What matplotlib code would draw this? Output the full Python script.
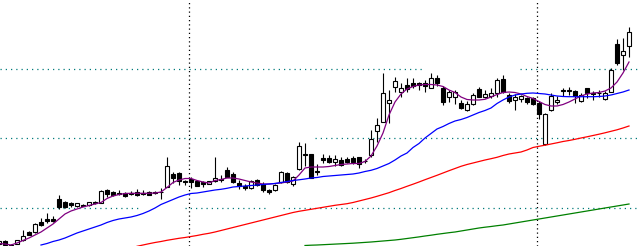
import matplotlib
matplotlib.use("Agg")
import matplotlib.pyplot as plt
import numpy as np

# ---- data (price-like units) ----
idx_start = -1
opens = [2, 5, 0.5, 2.5, 6, 14, 14.5, 24.5, 27, 27, 47, 44, 43, 40.5, 41.5, 41, 44.5, 43.5, 56.5, 54.5,
         53.5, 53.5, 53.5, 54, 53.5, 54.5, 54.5, 54.5, 59.5, 72.5, 73.5, 65, 67.5, 65.5, 64.5, 62.5, 65, 67, 76, 72,
         63.5, 60.5, 58.5, 66.5, 62.5, 56.5, 56, 64, 73.5, 62, 77, 92, 92, 75.5, 88.5, 88.5, 84.5, 86.3, 87.3, 88,
         89, 85.5, 91, 115, 124.5, 142.7, 158.7, 154.3, 161, 162.7, 162.7, 162.7, 158.3, 167.7, 157.7, 149.3, 149.5, 143.3, 135.7, 141.7,
         157, 149.5, 150, 152.7, 167, 151, 146, 146.7, 147.7, 148, 142.7, 101.7, 136, 143.7, 156, 156, 155, 145.3, 157.7, 152.7,
         153.3, 146.7, 154.3, 202, 190.7, 200]
closes = [5, 1, 1.5, 6, 10, 11.5, 22, 21, 25, 25, 39.5, 39.5, 41.5, 43, 40.5, 44, 43, 55, 52.5, 51,
          52, 50, 52, 51, 52, 51.5, 53, 54, 80, 68.5, 65, 64.5, 64, 60.5, 62.3, 65, 68.5, 66.5, 69.5, 64,
          60, 58.5, 65.5, 61.5, 56, 54.5, 61.5, 74.5, 63.7, 69, 100, 90.7, 68.3, 74, 86.5, 84, 87, 81, 84.3, 84,
          81.7, 85, 107, 121, 152.7, 146, 165, 157.7, 157, 160.3, 161, 160.3, 168.3, 162.7, 144.3, 153.7, 154, 138.3, 142, 151,
          149.3, 152, 153.3, 166, 153.7, 145, 149.3, 150, 143.7, 142, 132, 131.7, 150, 146, 155.5, 155.5, 150, 151.3, 153.3, 152.5,
          153, 153.3, 176, 183.3, 195, 213.7]
highs = [6, 6, 2, 6.5, 16, 15, 23.5, 28, 33, 30.5, 51.5, 45, 44, 43.5, 42, 44.5, 45.5, 56.5, 57.5, 55.5,
         56.5, 54.5, 55, 57, 56, 55, 55.5, 58, 89.5, 74, 74.5, 66.5, 69, 66.5, 65.5, 65.5, 89, 71, 79.5, 74.5,
         66, 62, 66, 67.5, 64, 57.5, 62, 75, 74, 70, 104, 103, 92.5, 82, 92.5, 91, 91, 89.5, 89.3, 90,
         89.5, 87, 116, 128, 172.7, 156, 169.3, 162.7, 167.7, 168, 164.3, 166, 172.7, 171, 160, 156, 156, 146, 145, 153,
         159.3, 156, 157.7, 167.7, 171, 153, 152, 151, 149.3, 149.5, 145, 133, 153.3, 150, 158.5, 159.3, 156, 153, 158, 155.3,
         156, 155, 177.7, 206.7, 207.7, 218.7]
lows = [1, 0, 0, 2, 5, 11, 13.5, 20, 23.5, 24, 37, 38.5, 39, 39.5, 40, 40.5, 42.5, 43, 49, 50,
        51, 49, 51, 50, 51, 51, 52, 47, 59, 63, 61, 61, 58, 60, 59.5, 62, 64.5, 64, 69, 63,
        57, 56.5, 57, 60.5, 54.5, 52, 55.5, 63.5, 63, 60, 76, 80.5, 68, 71, 83.5, 83, 80, 80, 83, 82.5,
        78, 83.5, 89, 104.5, 124, 123, 154.5, 149.5, 154.5, 158, 156, 154.5, 158, 160, 141, 144.3, 142, 137, 135, 141,
        149, 148, 148, 149.3, 153, 143.5, 136, 144.3, 142, 141, 127, 101, 135, 142, 150, 151, 143, 144.3, 147.7, 146,
        148.7, 146, 154, 181, 176, 189.3]

ma5 = [2.5, 2, 1, 3, 5.5, 8, 11, 14, 18, 22, 27, 32, 35, 37, 39, 40.5, 42, 43.5, 47.5, 50,
       51.5, 52.5, 52.7, 52.7, 52.7, 52.7, 53, 54, 58.5, 63.5, 66, 67.5, 67.5, 65.5, 64, 63, 65.5, 66.5, 68, 68,
       67, 65.5, 64, 63, 62, 62, 62.5, 63, 64, 65, 71, 78, 79, 79, 79, 79.5, 80.5, 81.5, 82, 82.5,
       82.5, 84.5, 90, 100, 113, 131, 144, 152, 157, 159.5, 161, 161.5, 161.5, 161, 159.5, 156, 153.5, 149, 146.5, 146,
       146, 146.7, 149, 151.5, 153.5, 154, 153.5, 152, 149.5, 147.5, 144.5, 141.5, 140, 140, 141.5, 144, 147, 150, 152, 153,
       153.5, 155, 158, 164, 173, 184]
ma_blue = [None] * 7 + [
    1, 2.5, 4.5, 6, 8, 10.5, 13, 15, 17, 19, 21, 23.5, 25.5, 27,
    28, 29, 30.5, 32.5, 35, 38, 41.5, 44, 46.5, 49, 51, 52.5, 53, 54, 55, 56, 56.7, 57.7, 59, 59.5,
    60, 60.5, 61, 61.5, 62, 62.5, 63.5, 64.5, 65.5, 66.2, 67, 68, 68.5, 69.5, 70, 70.5, 71, 71.5, 72, 73,
    74.5, 75.7, 77.5, 80, 82.5, 86, 90, 93, 98.5, 102.5, 108, 112.5, 117, 119.5, 122.5, 125, 126.5, 128.5, 131, 133.5,
    135.5, 138, 142.5, 146, 149, 151, 152, 152.7, 153, 152.5, 152, 151, 150, 149.5, 149.3, 149.3, 149.3, 149.3, 149.3, 149.5,
    150, 151, 152.5, 154, 156]
ma_red = [None] * 23 + [
    -0.3, 1, 2.3, 3.5, 4.5, 5.7, 6.7, 7.7, 8.5, 9.5, 10.5, 11.7, 12.7, 14, 15.5, 17, 18.5,
    20, 21.5, 23, 24.5, 26, 27.5, 29, 30.5, 32, 33.5, 34.7, 35.7, 36.7, 37.7, 38.7, 39.7, 40.7, 41.5, 42.3, 43.5,
    45, 46.5, 48, 49.7, 51.5, 53.3, 55.5, 57.5, 59.7, 61.8, 64, 66.3, 68.5, 70.7, 73, 75.3, 77.5, 79.7, 81.5, 83,
    84.5, 86, 87.3, 88.7, 90.5, 92, 93, 94, 96, 98.5, 99.7, 100.8, 102, 103.2, 104.5, 105.5, 106.7, 108, 109.2, 110.5,
    111.8, 113.2, 114.7, 116.2, 118, 120]
ma_green = [None] * 51 + [
    0.5, 0.8, 1, 1.3, 1.6, 1.9, 2.2, 2.5, 2.8, 3.2,
    3.6, 4, 4.5, 5, 5.5, 6, 6.7, 7.5, 8.3, 9.1, 10, 10.8, 11.7, 12.5, 13.3, 14, 15, 16, 17, 18,
    18.8, 19.5, 20.3, 21, 22, 23, 24, 25, 26, 27, 28, 29, 30, 31, 32, 33, 34, 35, 36, 37,
    38, 39, 40, 41, 42]

grid_levels = [176.7, 107.7, 37.7]
month_breaks = [30.6, 88.6]

# ---- figure ----
fig = plt.figure(figsize=(6.4, 2.46), dpi=100)
ax = fig.add_axes([0, 0, 1, 1])
ax.set_axis_off()
ax.set_xlim(-5 / 6, 105 + 5 / 6)
ax.set_ylim(0, 246)

x = np.arange(idx_start, idx_start + len(opens))
o = np.array(opens, float); c = np.array(closes, float)
h = np.array(highs, float); l = np.array(lows, float)

# grid (horizontal teal dotted with gaps where labels were)
teal = "#007b7b"
segments = {176.7: [(-0.9, 69.5), (85.8, 106)],
            107.7: [(-0.9, 44.5), (51.7, 106)],
            37.7: [(-0.9, 22.5), (30.0, 43.7), (46.3, 106)]}
for lvl in grid_levels:
    for a, b in segments[lvl]:
        ax.plot([a, b], [lvl, lvl], color=teal, lw=0.9, ls=(0, (1, 3.2)), zorder=1)
for mb in month_breaks:
    ax.axvline(mb, color="black", lw=0.9, ls=(0, (1, 2.4)), zorder=1)

# candles
up = c >= o
ax.vlines(x, l, h, color="black", lw=0.8, zorder=2)
bottoms = np.minimum(o, c)
heights = np.maximum(np.abs(c - o), 0.4)
ax.bar(x[up], heights[up], bottom=bottoms[up], width=0.72, color="white",
       edgecolor="black", linewidth=0.8, zorder=3)
ax.bar(x[~up], heights[~up], bottom=bottoms[~up], width=0.72, color="black",
       edgecolor="black", linewidth=0.8, zorder=3)

def series(vals):
    return np.array([np.nan if v is None else v for v in vals], float)

for vals, col in [(ma5, "#800080"), (ma_blue, "#0000ff"),
                  (ma_red, "#ff0000"), (ma_green, "#008000")]:
    xv = np.arange(idx_start, idx_start + len(vals))
    ax.plot(xv, series(vals), color=col, lw=0.9, zorder=4)

fig.savefig("out.png", dpi=100, facecolor="white")
